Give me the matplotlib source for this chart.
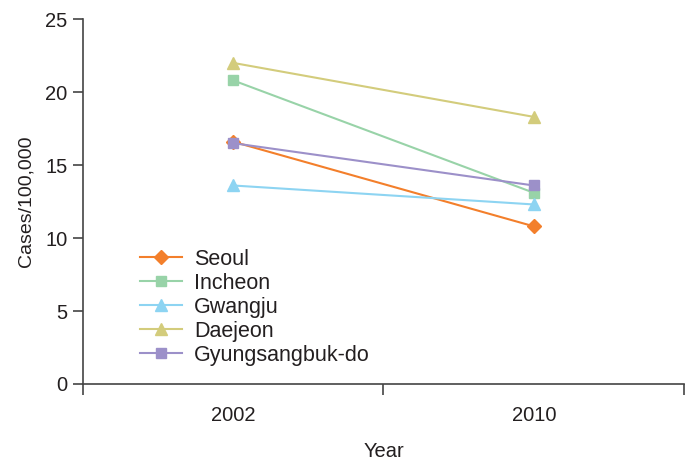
import matplotlib
matplotlib.use("Agg")
import matplotlib.pyplot as plt

plt.rcParams['font.family'] = ['Liberation Sans', 'DejaVu Sans']

years = ["2002", "2010"]
regions = ["Seoul", "Incheon", "Gwangju", "Daejeon", "Gyungsangbuk-do"]
seoul = [16.6, 10.8]
incheon = [20.8, 13.1]
gwangju = [13.6, 12.3]
daejeon = [22.0, 18.3]
gyeongbuk = [16.5, 13.6]
series = [seoul, incheon, gwangju, daejeon, gyeongbuk]
colors = ["#F37F2B", "#98D3A8", "#8DD4F2", "#D3CC7C", "#9C90C9"]
markers = ["D", "s", "^", "^", "s"]
msizes = [7, 7, 8.5, 8.5, 7]

fig = plt.figure(figsize=(6.96, 4.66), dpi=100)
ax = fig.add_axes([0.119, 0.176, 0.864, 0.783])

x = list(range(len(years)))
for name, vals, c, m, ms in zip(regions, series, colors, markers, msizes):
    ax.plot(x, vals, color=c, marker=m, markersize=ms, linewidth=1.5,
            markeredgecolor=c, label=name)

ax.set_ylim(0, 25)
ax.set_yticks([0, 5, 10, 15, 20, 25])
ax.set_xlim(-0.5, 1.5)
ax.set_xticks([-0.5, 0.5, 1.5])
ax.set_xticklabels([])
ax.set_xticks(x, minor=True)
ax.set_xticklabels(years, minor=True)
ax.tick_params(axis='x', which='minor', length=0, pad=16, labelsize=14.5, colors='#231f20')
ax.tick_params(axis='x', which='major', length=8, width=1.2, color='#444444', direction='out')
ax.tick_params(axis='y', length=7, width=1.2, color='#444444', labelsize=14.5, labelcolor='#231f20', pad=4)

for s in ['top', 'right']:
    ax.spines[s].set_visible(False)
for s in ['left', 'bottom']:
    ax.spines[s].set_color('#444444')
    ax.spines[s].set_linewidth(1.2)

ax.set_ylabel("Cases/100,000", fontsize=14, color='#231f20', labelpad=8)
ax.set_xlabel("Year", fontsize=14.5, color='#231f20', labelpad=12)

leg = ax.legend(loc='upper left', bbox_to_anchor=(0.095, 0.37), frameon=False,
                fontsize=15.5, handlelength=1.95, handletextpad=0.55,
                labelspacing=0.14, borderaxespad=0, borderpad=0,
                labelcolor='#231f20')

fig.savefig("out.png", dpi=100)
